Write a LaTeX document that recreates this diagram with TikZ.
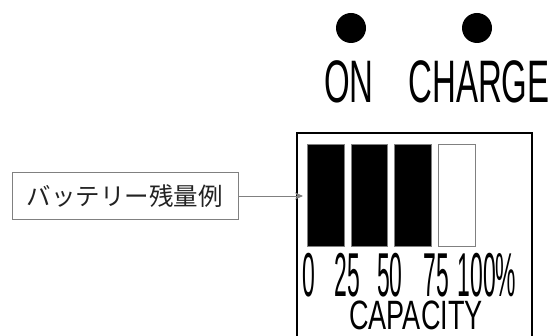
\documentclass[tikz,border=0pt]{standalone}
\usepackage{fontspec}
\usetikzlibrary{arrows.meta,positioning}
\newfontfamily\lampfont[FakeStretch=0.55]{Liberation Sans}
\newfontfamily\tickfont[FakeStretch=0.37]{Liberation Sans}
\newfontfamily\capfont[FakeStretch=0.66]{Liberation Sans}
\newfontfamily\jpfont{Noto Sans CJK JP}
\definecolor{ink}{HTML}{000000}
\definecolor{rule}{HTML}{808080}
\definecolor{labelink}{HTML}{222222}
\tikzset{
  lamp/.style={circle, fill=ink, minimum size=30pt, inner sep=0pt},
  lamplbl/.style={inner sep=0pt, anchor=base, font=\lampfont\fontsize{60}{60}\selectfont},
  panel/.style={draw=ink, line width=2pt},
  cell/.style={rectangle, draw=rule, line width=0.8pt, fill=ink, inner sep=0pt,
              minimum width=36.5pt, minimum height=102pt},
  emptycell/.style={cell, fill=white},
  tick/.style={inner sep=0pt, anchor=base, font=\tickfont\fontsize{62}{62}\selectfont},
  caplbl/.style={inner sep=0pt, anchor=base, font=\capfont\fontsize{41}{41}\selectfont},
  note/.style={rectangle, draw=rule, line width=0.8pt, minimum width=226pt,
              minimum height=47pt, inner sep=0pt, text=labelink,
              font=\jpfont\fontsize{24.5}{24.5}\selectfont},
  fl/.style={-{Stealth[length=8pt,width=7pt]}, draw=rule, line width=0.9pt},
}
\begin{document}
\begin{tikzpicture}[x=1pt,y=-1pt]
\useasboundingbox (0,0) rectangle (552,336);

% --- indicator lamps ----------------------------------------------------
\node[lamp] (onlamp) at (351,28) {};
\node[lamp] (chglamp) at (477,28) {};
\node[lamplbl] (on) at (349,103) {ON};
\node[lamplbl] (chg) at (479,103) {CHARGE};

% --- capacity panel -----------------------------------------------------
\draw[panel] (297,133) rectangle (532,345);
\foreach \i in {0,1,2}
  \node[cell, anchor=north west] (cell\i) at ({307+43.7*\i},144) {};
\node[emptycell, anchor=north west] (cell3) at (438,144) {};
\foreach \t/\x [count=\k] in {0/309, 25/347.5, 50/390, 75/436, 100\%/487}
  \node[tick] (tick\k) at (\x,296.5) {\t};
\node[caplbl] (cap) at (416,330) {CAPACITY};

% --- example label ------------------------------------------------------
\node[note] (note) at (125,196) {バッテリー残量例};
\draw[fl, shorten >=4pt] (note.east) -- (note.east -| cell0.west);
\end{tikzpicture}
\end{document}
